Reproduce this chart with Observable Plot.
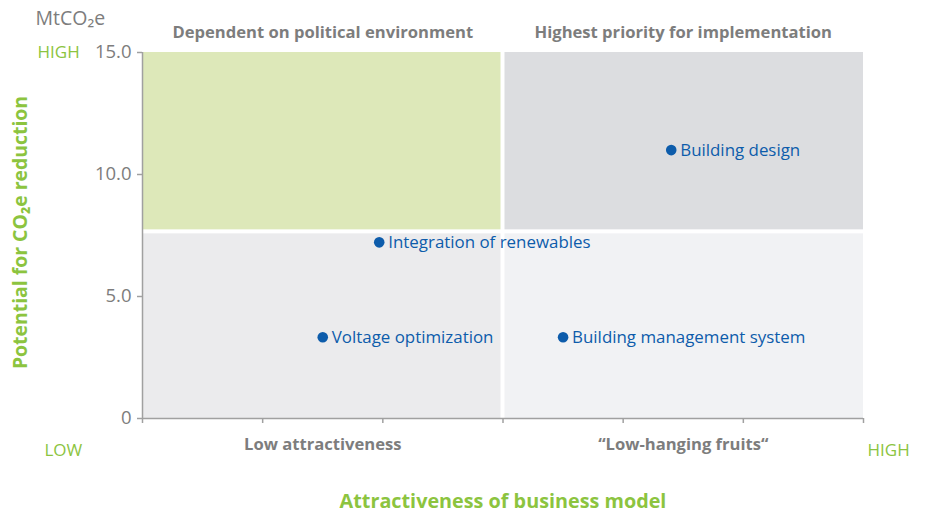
<!DOCTYPE html>
<html><head><meta charset="utf-8">
<script src="https://cdn.jsdelivr.net/npm/d3@7"></script>
<script src="https://cdn.jsdelivr.net/npm/@observablehq/plot@0.6"></script>
<style>
html,body{margin:0;padding:0;background:#fff;}
</style></head>
<body><div id="chart"></div>
<script>
// Data
const projects = ["Building design", "Integration of renewables", "Voltage optimization", "Building management system"];
const attractiveness = [4.4, 1.97, 1.5, 3.5];
const potential = [11.0, 7.22, 3.33, 3.33];
const xTicks = [0, 1, 2, 3, 4, 5, 6];
const yTicks = [0, 5, 10, 15];
const quadrantNames = ["Low attractiveness", "Dependent on political environment", "Highest priority for implementation", "\u201cLow-hanging fruits\u201c"];
const quadX1 = [0, 0, 3, 3];
const quadX2 = [3, 3, 6, 6];
const quadY1 = [0, 7.65, 7.65, 0];
const quadY2 = [7.65, 15, 15, 7.65];

const quadFill = ["#ebebed", "#dde8b9", "#dcdde0", "#f1f2f4"];
const quads = quadrantNames.map((n,i)=>({name:n,x1:quadX1[i],x2:quadX2[i],y1:quadY1[i],y2:quadY2[i],fill:quadFill[i]}));
const pts = projects.map((p,i)=>({name:p,x:attractiveness[i],y:potential[i]}));
const FONT = "'Open Sans', sans-serif";
const gray = "#7d7d7d";
const green = "#8cc43f";
const blue = "#0d5cab";
const axisGray = "#a0a0a0";

const rectMarks = quads.map(q => Plot.rect([q], {
  x1:"x1", x2:"x2", y1:"y1", y2:"y2", fill: q.fill,
  insetLeft: q.x1 > 0 ? 2 : 0, insetRight: q.x2 < 6 ? 2 : 0,
  insetBottom: q.y1 > 0 ? 2 : 0, insetTop: q.y2 < 15 ? 2 : 0
}));

const T = (s, o) => Plot.text([s], {text: d => d, lineAnchor: "middle", ...o});

const chart = Plot.plot({
  width: 931, height: 515,
  marginLeft: 142, marginRight: 68, marginTop: 52, marginBottom: 97,
  style: {fontFamily: FONT, background: "#fff"},
  x: {domain: [0, 6], axis: null},
  y: {domain: [0, 15], axis: null},
  marks: [
    ...rectMarks,
    Plot.ruleX([0], {stroke: axisGray, strokeWidth: 1.5}),
    Plot.ruleY([0], {stroke: axisGray, strokeWidth: 1.5}),
    Plot.axisX({ticks: xTicks, tickSize: 5, tickFormat: () => "", stroke: axisGray, strokeWidth: 1.5}),
    Plot.axisY({ticks: yTicks, tickSize: 5, tickPadding: 6, tickFormat: d => d === 0 ? "0" : d.toFixed(1), fontSize: 18.5, color: gray, stroke: axisGray, strokeWidth: 1.5, label: null}),
    Plot.dot(pts, {x: "x", y: "y", r: 5.3, fill: blue, stroke: "none"}),
    Plot.text(pts, {x: "x", y: "y", text: "name", textAnchor: "start", dx: 9, fontSize: 16.9, fill: blue}),
    // quadrant titles
    T(quadrantNames[1], {x: (quadX1[1]+quadX2[1])/2, frameAnchor: "top", dy: -20, fontSize: 16.6, fontWeight: "bold", fill: gray}),
    T(quadrantNames[2], {x: (quadX1[2]+quadX2[2])/2, frameAnchor: "top", dy: -20, fontSize: 16.6, fontWeight: "bold", fill: gray}),
    T(quadrantNames[0], {x: (quadX1[0]+quadX2[0])/2, frameAnchor: "bottom", dy: 26, fontSize: 16.6, fontWeight: "bold", fill: gray}),
    T(quadrantNames[3], {x: (quadX1[3]+quadX2[3])/2, frameAnchor: "bottom", dy: 26, fontSize: 16.6, fontWeight: "bold", fill: gray}),
    // axis titles
    T("Attractiveness of business model", {frameAnchor: "bottom", dy: 83, textAnchor: "middle", fontSize: 19.8, fontWeight: "bold", fill: green}),
    T("LOW", {frameAnchor: "bottom-left", dx: -98, dy: 32, textAnchor: "start", fontSize: 17, letterSpacing: "0.5px", fill: green}),
    T("HIGH", {frameAnchor: "bottom-right", dx: 4, dy: 32, textAnchor: "start", fontSize: 17, letterSpacing: "1px", fill: green}),
    T("HIGH", {frameAnchor: "top-left", dx: -105, dy: 0, textAnchor: "start", fontSize: 17, letterSpacing: "1px", fill: green}),
    T("Potential for CO\u2082e reduction", {frameAnchor: "left", dx: -122, dy: -3, rotate: -90, textAnchor: "middle", fontSize: 19.4, fontWeight: "bold", fill: green}),
    T("MtCO\u2082e", {frameAnchor: "top-left", dx: -107, dy: -34, textAnchor: "start", fontSize: 19.5, fill: gray})
  ]
});
document.getElementById("chart").appendChild(chart);
</script>
</body></html>
